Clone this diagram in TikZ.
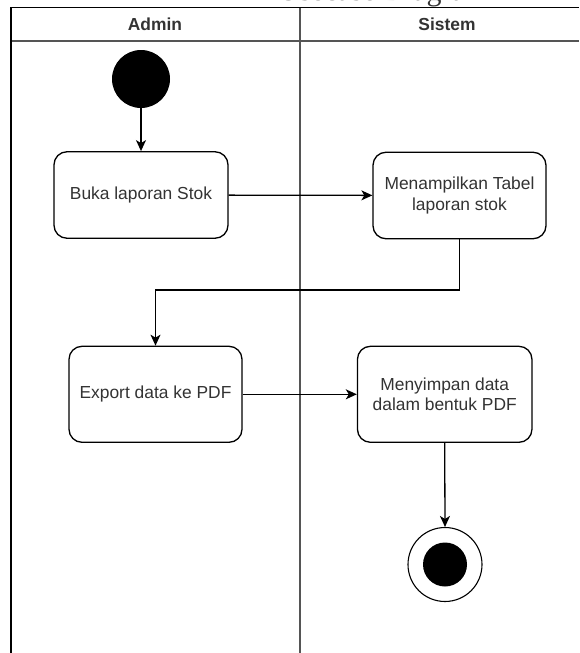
\documentclass[tikz,border=0pt]{standalone}
\usepackage{fontspec}
\setmainfont{Liberation Sans}
\newfontfamily\titlefont{Liberation Serif}
\usetikzlibrary{arrows.meta}
\definecolor{txt}{HTML}{333333}
\definecolor{lanegray}{HTML}{555555}
\tikzset{
  act/.style={draw=black, line width=1.3pt, rounded corners=13pt, fill=white,
    minimum width=174pt, inner sep=2pt, align=center, text=txt,
    font=\fontsize{17.4}{20.9}\selectfont},
  arr/.style={draw=black, line width=1.3pt,
    -{Stealth[length=11pt,width=10pt,inset=3pt]}},
  hdr/.style={text=txt, font=\bfseries\fontsize{17.4}{20.9}\selectfont},
}
\begin{document}
\begin{tikzpicture}[x=1pt,y=-1pt]
\useasboundingbox (0,0) rectangle (579,653);
% title (cut off at the top, as in the reference)
\begin{scope}
\clip (0,0) rectangle (579,653);
\node[anchor=base, inner sep=0pt, text=txt, font=\titlefont\fontsize{30}{33}\selectfont] (title) at (383,1) {Usecase Diagram};
\end{scope}
% swimlane frame
\draw[lanegray, line width=1.8pt] (10.7,41) -- (579,41);
\draw[lanegray, line width=1.8pt] (300,7.5) -- (300,653);
\draw[black, line width=1.6pt] (10.7,653) -- (10.7,7.5) -- (579,7.5);
\node[hdr] (hadmin) at (155,24.5) {Admin};
\node[hdr] (hsistem) at (447,24.5) {Sistem};
% start
\node[circle, fill=black, minimum size=58pt, inner sep=0pt] (start) at (141,79) {};
% activities
\node[act, minimum height=86.5pt] (b1) at (141,195) {Buka laporan Stok};
\node[act, minimum height=86.5pt, minimum width=173pt] (b2) at (459.5,195.5) {Menampilkan Tabel\\laporan stok};
\node[act, minimum height=96pt, minimum width=173pt] (b3) at (155.5,394.3) {Export data ke PDF};
\node[act, minimum height=96pt, minimum width=174.5pt] (b4) at (444.7,394.3) {Menyimpan data\\dalam bentuk PDF};
% end
\node[circle, draw=black, line width=1.1pt, minimum size=74pt, inner sep=0pt] (end) at (445,564.5) {};
\node[circle, fill=black, minimum size=44pt, inner sep=0pt] (endin) at (end.center) {};
% connectors
\coordinate (k) at (0,290);
\draw[arr] (start) -- (b1);
\draw[arr] (b1) -- (b2);
\draw[arr] (b2.south) |- (b3.north |- k) -- (b3.north);
\draw[arr] (b3) -- (b4);
\draw[arr] (b4.south) -- (end.north);
\end{tikzpicture}
\end{document}
